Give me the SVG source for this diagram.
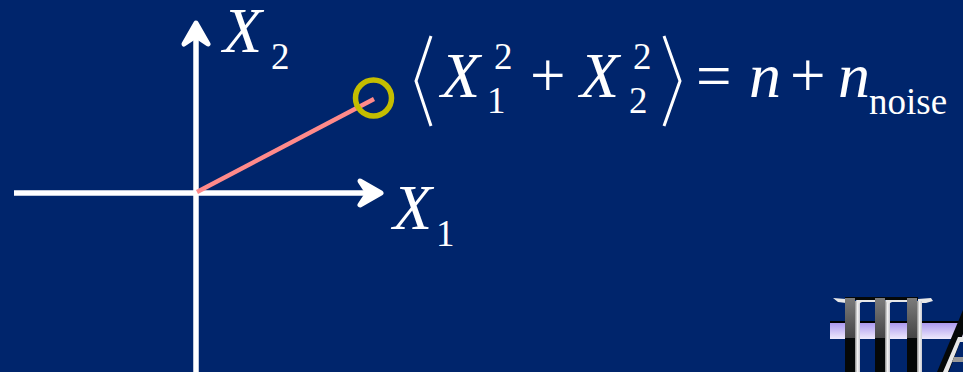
<svg xmlns="http://www.w3.org/2000/svg" width="963" height="372" viewBox="0 0 963 372">
<defs>
<linearGradient id="band" x1="0" y1="0" x2="0" y2="1"><stop offset="0" stop-color="#a894ee"/><stop offset="1" stop-color="#eeeafc"/></linearGradient>
<linearGradient id="pillar" x1="0" y1="0" x2="0" y2="1"><stop offset="0" stop-color="#7c7c7c"/><stop offset="1" stop-color="#444"/></linearGradient>
<linearGradient id="edge" x1="0" y1="0" x2="1" y2="0"><stop offset="0" stop-color="#8a8a8a"/><stop offset="0.5" stop-color="#f2f2f2"/><stop offset="1" stop-color="#c8c8d0"/></linearGradient>
</defs>
<style>
text{font-family:"Liberation Serif","Times New Roman",serif;fill:#fff}
.v{font-style:italic;font-size:64px}
.s{font-size:37px}
.o{font-size:63px}
.ax{fill:#fff;stroke:#fff;stroke-width:5px;stroke-linecap:round;stroke-linejoin:round}
.p{fill:url(#pillar)}
.d{fill:#050808}
.w{fill:#e8e8e8}
.e{fill:url(#edge)}
.b{fill:#00256c}
</style>
<rect width="963" height="372" fill="#00256c"/>
<g id="connectors">
<line x1="196" y1="372" x2="196" y2="30" stroke="#fff" stroke-width="5.5"/>
<line x1="14" y1="193" x2="372" y2="193" stroke="#fff" stroke-width="5.5"/>
<path class="ax" d="M196 23L208 44L196 36L184 44Z"/>
<path class="ax" d="M381 193L360 181L368 193L360 205Z"/>
<line x1="197" y1="192" x2="374" y2="99" stroke="#ff8a8a" stroke-width="4.5"/>
</g>
<g id="point"><circle cx="373.500" cy="98" r="18" fill="none" stroke="#c4bd00" stroke-width="5.500"/></g>
<g id="label-x2"><text class="v" x="223" y="52">X</text><text class="s" x="271" y="69">2</text></g>
<g id="label-x1"><text class="v" x="393" y="229">X</text><text class="s" x="436" y="246">1</text></g>
<g id="equation">
<path d="M431 36L416 81L431 126M664 36L680 81L664 126" fill="none" stroke="#fff" stroke-width="3"/>
<text class="v" x="441" y="97">X</text><text class="s" x="494" y="69">2</text><text class="s" x="487" y="113">1</text>
<text class="o" x="530" y="97">+</text>
<text class="v" x="580" y="97">X</text><text class="s" x="633" y="69">2</text><text class="s" x="629" y="113">2</text>
<text class="o" x="696" y="97">=</text>
<text class="v" x="749" y="97">n</text>
<text class="o" x="790" y="97">+</text>
<text class="v" x="838" y="97">n</text>
<text x="869" y="114" font-size="37px">noise</text>
</g>
<g id="logo">
<rect x="830" y="322" width="133" height="17" fill="url(#band)"/>
<rect x="830" y="321" width="133" height="2" fill="#000"/>
<path class="w" d="M833 298L846 299V303L838 302ZM918 299L931 298L933 301L926 303H918Z"/>
<rect class="e" x="855" y="301" width="5" height="71"/><rect class="e" x="885" y="301" width="5" height="71"/><rect class="e" x="917" y="301" width="5" height="71"/>
<path class="w" d="M856 300H875V302H862L858 304ZM885 300H907V302H892L888 304Z"/>
<rect class="d" x="845" y="297" width="73" height="3"/>
<rect class="p" x="845" y="298" width="10" height="41"/><rect class="d" x="845" y="338" width="10" height="34"/>
<rect class="p" x="875" y="298" width="10" height="41"/><rect class="d" x="875" y="338" width="10" height="34"/>
<rect class="p" x="907" y="298" width="10" height="41"/><rect class="d" x="907" y="338" width="10" height="34"/>
<path class="d" d="M937 372L963 310V334L949 372Z"/>
<path class="w" d="M943 372L958 337H963V342H960L948 372Z"/>
<path class="b" d="M949 372L958 350H963V372Z"/>
<path d="M952 362H963V357H954Z" fill="#999"/>
</g>
</svg>
